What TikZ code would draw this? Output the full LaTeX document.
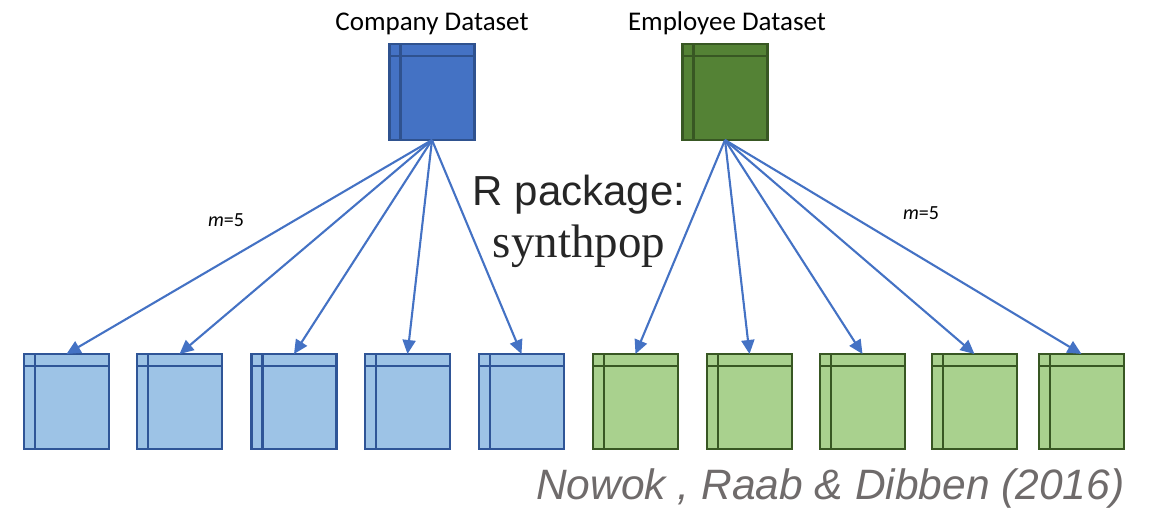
\documentclass[tikz,border=0pt]{standalone}
\usepackage{fontspec}
\setmainfont{Carlito}
\newfontfamily\arialfont{Liberation Sans}
\newfontfamily\timesfont{Liberation Serif}
\usetikzlibrary{arrows.meta}
\definecolor{compfill}{HTML}{4472C4}
\definecolor{compline}{HTML}{2F528F}
\definecolor{empfill}{HTML}{548235}
\definecolor{empline}{HTML}{385723}
\definecolor{synblue}{HTML}{9DC3E6}
\definecolor{synblueline}{HTML}{2F5597}
\definecolor{syngreen}{HTML}{A9D18E}
\definecolor{arrowblue}{HTML}{4472C4}
\definecolor{citegray}{HTML}{6F6B6B}
\begin{document}
\begin{tikzpicture}[x=1pt,y=-1pt,
  tbl/.style 2 args={draw=#2,fill=#1,line width=2.8pt,minimum width=85pt,minimum height=95pt,
    inner sep=0pt,outer sep=0pt,
    path picture={\draw[#2,line width=2.8pt]
      ([xshift=11pt]path picture bounding box.north west) -- ([xshift=11pt]path picture bounding box.south west)
      ([yshift=-12pt]path picture bounding box.north west) -- ([yshift=-12pt]path picture bounding box.north east);}},
  syn/.style={draw=arrowblue,line width=2.1pt,-{Triangle[length=14pt,width=13pt]}}]
\useasboundingbox (0,0) rectangle (1152,507);
% source datasets
\node[tbl={compfill}{compline},minimum height=96pt] (comp) at (432,92) {};
\node[tbl={empfill}{empline},minimum height=96pt] (emp) at (725,92) {};
\node[anchor=base,font=\fontsize{27}{30}\selectfont] (complbl) at (432,30) {Company Dataset};
\node[anchor=base,font=\fontsize{27}{30}\selectfont] (emplbl) at (727,30) {Employee Dataset};
% synthetic copies
\node[tbl={synblue}{synblueline}] (c1) at (66.5,401.5) {};
\node[tbl={synblue}{synblueline}] (c2) at (179.5,401.5) {};
\node[tbl={synblue}{synblueline}] (c3) at (294,401.5) {};
\node[tbl={synblue}{synblueline}] (c4) at (407.5,401.5) {};
\node[tbl={synblue}{synblueline}] (c5) at (521.5,401.5) {};
\node[tbl={syngreen}{empline}] (e1) at (635.5,401.5) {};
\node[tbl={syngreen}{empline}] (e2) at (749.5,401.5) {};
\node[tbl={syngreen}{empline}] (e3) at (862.5,401.5) {};
\node[tbl={syngreen}{empline}] (e4) at (974.5,401.5) {};
\node[tbl={syngreen}{empline}] (e5) at (1081.5,401.5) {};
\draw[syn] (comp.south) -- (c1.north);
\draw[syn] (comp.south) -- (c2.north);
\draw[syn] (comp.south) -- (c3.north);
\draw[syn] (comp.south) -- (c4.north);
\draw[syn] (comp.south) -- (c5.north);
\draw[syn] (emp.south) -- (e1.north);
\draw[syn] (emp.south) -- (e2.north);
\draw[syn] (emp.south) -- (e3.north);
\draw[syn] (emp.south) -- (e4.north);
\draw[syn] (emp.south) -- (e5.north);
\node[font=\fontsize{20}{24}\selectfont] (mleft) at (226,220) {\itshape m\upshape=5};
\node[font=\fontsize{20}{24}\selectfont] (mright) at (921,213) {\itshape m\upshape=5};
% package name
\node[anchor=base,font=\arialfont\fontsize{42}{48}\selectfont,text=black!85] (pkg) at (579,205) {R package:};
\node[anchor=base,font=\timesfont\fontsize{47}{52}\selectfont,text=black!85] (synth) at (579,257) {synthpop};
\node[anchor=base east,font=\arialfont\itshape\fontsize{42.5}{48}\selectfont,text=citegray] (cite) at (1128,499) {Nowok , Raab \& Dibben (2016)};
\end{tikzpicture}
\end{document}
